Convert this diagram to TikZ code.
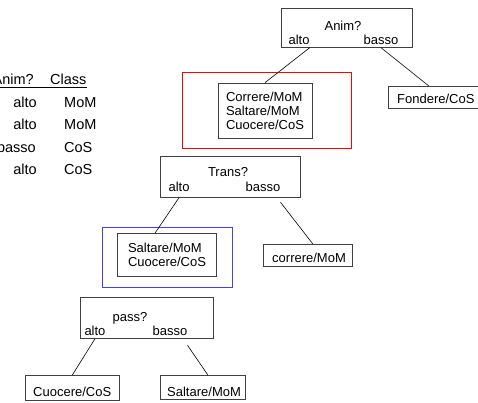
\documentclass[tikz,border=0pt]{standalone}
\usepackage{fontspec}
\setmainfont{Liberation Sans}
\begin{document}
\begin{tikzpicture}[x=1pt, y=-1pt, font=\fontsize{13}{14}\selectfont,
    box/.style={draw=black!75, line width=0.7pt, inner sep=0pt, anchor=north west},
    txt/.style={inner sep=0pt, anchor=base},
    kante/.style={black, line width=0.6pt},
    tab/.style={inner sep=0pt, font=\fontsize{14.5}{16}\selectfont}]
  \useasboundingbox (0,0) rectangle (478,403);
  % Tabelle links
  \node [tab, anchor=base east] (hanim) at (34,85) {Anim?};
  \node [tab, anchor=base west] (hclass) at (50,85) {Class};
  \draw [black, line width=0.6pt] ([yshift=-2pt]hanim.base west) -- ([yshift=-2pt]hclass.base east);
  \node [tab, anchor=base east] (a1) at (37,108) {alto};
  \node [tab, anchor=base west] (c1) at (64,108) {MoM};
  \node [tab, anchor=base east] (a2) at (37,130) {alto};
  \node [tab, anchor=base west] (c2) at (64,130) {MoM};
  \node [tab, anchor=base east] (a3) at (36,153) {basso};
  \node [tab, anchor=base west] (c3) at (64,153) {CoS};
  \node [tab, anchor=base east] (a4) at (37,175) {alto};
  \node [tab, anchor=base west] (c4) at (64,175) {CoS};
  % Wurzel
  \node [box, minimum width=131pt, minimum height=39pt] (anim) at (281,8) {};
  \node [txt] (animq) at (343,31) {Anim?};
  \node [txt] (anima) at (299,45) {alto};
  \node [txt] (animb) at (381,45) {basso};
  \node [box, draw=red, minimum width=169pt, minimum height=76pt] (redbox) at (182,72) {};
  \node [box, minimum width=94pt, minimum height=55pt, align=left, anchor=center] (redin) at (265,110.5)
        {\raisebox{-2pt}{\parbox{78pt}{Correre/MoM\\Saltare/MoM\\Cuocere/CoS}}};
  \node [box, minimum width=97pt, minimum height=22pt, anchor=north west] (fond) at (388,86) {};
  \node [txt, anchor=base west] (fondt) at (397,104) {Fondere/CoS};
  % Trans?
  \node [box, minimum width=140pt, minimum height=41pt] (trans) at (160,156) {};
  \node [txt] (transq) at (228,177) {Trans?};
  \node [txt] (transa) at (179,192) {alto};
  \node [txt] (transb) at (263,192) {basso};
  \node [box, draw=blue!75, minimum width=130pt, minimum height=60pt] (bluebox) at (102,227) {};
  \node [box, minimum width=99pt, minimum height=43pt, align=left, anchor=center] (bluein) at (167,255)
        {\raisebox{-3pt}{\parbox{78pt}{Saltare/MoM\\Cuocere/CoS}}};
  \node [box, minimum width=89pt, minimum height=22pt] (corr) at (263,244) {};
  \node [txt, anchor=base west] (corrt) at (272,262) {correre/MoM};
  % pass?
  \node [box, minimum width=133pt, minimum height=41pt] (pass) at (80,297) {};
  \node [txt] (passq) at (130,321) {pass?};
  \node [txt] (passa) at (95,335) {alto};
  \node [txt] (passb) at (170,335) {basso};
  \node [box, minimum width=94pt, minimum height=25pt] (cuoc) at (25,375) {};
  \node [txt, anchor=base west] (cuoct) at (33,396) {Cuocere/CoS};
  \node [box, minimum width=85pt, minimum height=24pt] (salt) at (160,375) {};
  \node [txt, anchor=base west] (saltt) at (167,396) {Saltare/MoM};
  % Kanten
  \draw [kante] (anima.east |- anim.south) -- (redin.north);
  \draw [kante] (animb |- anim.south) -- ([xshift=-8pt]fond.north);
  \draw [kante] (transa |- trans.south) -- ([xshift=-12pt]bluein.north);
  \draw [kante] ([yshift=-10pt]transb.south east) -- ([xshift=5pt]corr.north);
  \draw [kante] (passa |- pass.south) -- (cuoc.north);
  \draw [kante] ([yshift=-10pt]passb.south east) -- ([xshift=5pt]salt.north);
\end{tikzpicture}
\end{document}
